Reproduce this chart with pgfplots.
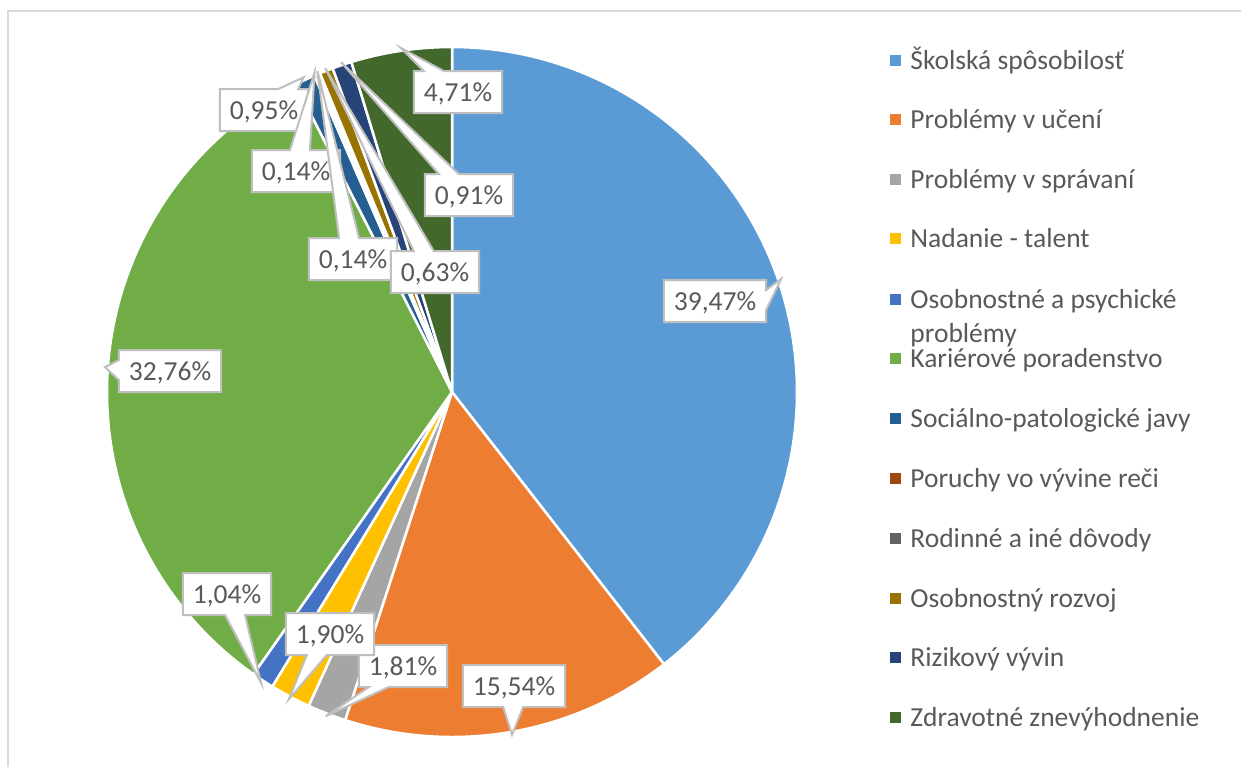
\documentclass[border=0pt]{standalone}
\usepackage{pgfplots}
\pgfplotsset{compat=1.18}
\usepackage{fontspec}
\setmainfont{Carlito}
\usetikzlibrary{shapes.callouts}
\definecolor{c1}{HTML}{5B9BD5}
\definecolor{c2}{HTML}{ED7D31}
\definecolor{c3}{HTML}{A5A5A5}
\definecolor{c4}{HTML}{FFC000}
\definecolor{c5}{HTML}{4472C4}
\definecolor{c6}{HTML}{70AD47}
\definecolor{c7}{HTML}{255E91}
\definecolor{c8}{HTML}{9E480E}
\definecolor{c9}{HTML}{636363}
\definecolor{c10}{HTML}{997300}
\definecolor{c11}{HTML}{264478}
\definecolor{c12}{HTML}{43682B}
\definecolor{txt}{HTML}{595959}
\definecolor{lblborder}{HTML}{BFBFBF}
\definecolor{framec}{HTML}{D9D9D9}
\tikzset{
  lbl/.style={rectangle callout, draw=lblborder, line width=1pt, fill=white,
    text=txt, font=\fontsize{13.75}{16}\selectfont, inner xsep=5pt, inner ysep=6pt,
    text height=9pt, text depth=0pt, callout pointer width=10pt},
  leg/.style={anchor=base west, text=txt, font=\fontsize{13.75}{16}\selectfont, inner sep=0pt}
}
\begin{document}
\begin{tikzpicture}
\begin{axis}[scale only axis, width=620.5pt, height=383.5pt,
  xmin=0, xmax=1241, ymin=0, ymax=767, y dir=reverse, hide axis, clip=false]
% outer frame
\draw[framec, line width=1pt] (axis cs:8,767) -- (axis cs:8,11) -- (axis cs:1241,11);
% pie slices (values in %)
\gdef\cum{0}
\foreach \v/\c in {39.47/c1,15.54/c2,1.81/c3,1.90/c4,1.04/c5,32.76/c6,0.95/c7,0.14/c8,0.14/c9,0.63/c10,0.91/c11,4.71/c12}{
  \pgfmathsetmacro{\sa}{3.6*\cum}
  \pgfmathsetmacro{\sb}{3.6*(\cum+\v)}
  \edef\tmp{\noexpand\addplot[fill=\c, draw=white, line width=1.25pt, line join=round, domain=\sa:\sb, samples=120] ({452+345*sin(x)},{392-345*cos(x)}) -- (axis cs:452,392) -- cycle;}
  \tmp
  \pgfmathsetmacro{\newcum}{\cum+\v}
  \xdef\cum{\newcum}
}
% data labels
\gdef\cum{0}
\foreach \v/\lab/\lx/\ly in {39.47/{39,47}/715/301, 15.54/{15,54}/514/686, 1.81/{1,81}/403/666, 1.90/{1,90}/330/634, 1.04/{1,04}/227/594, 32.76/{32,76}/170/371, 0.95/{0,95}/264/110, 0.14/{0,14}/296/171, 0.14/{0,14}/353/259, 0.63/{0,63}/435/272, 0.91/{0,91}/469/195, 4.71/{4,71}/458/92}{
  \pgfmathsetmacro{\mid}{3.6*(\cum+\v/2)}
  \pgfmathsetmacro{\tx}{452+348*sin(\mid)}
  \pgfmathsetmacro{\ty}{392-348*cos(\mid)}
  \edef\tmp{\noexpand\node[lbl, callout absolute pointer={(axis cs:\tx,\ty)}] at (axis cs:\lx,\ly) {\lab\noexpand\%};}
  \tmp
  \pgfmathsetmacro{\newcum}{\cum+\v}
  \xdef\cum{\newcum}
}
% legend
\foreach \y/\c in {60/c1,119/c2,179/c3,238/c4,299/c5,358/c6,418/c7,478/c8,538/c9,598/c10,657/c11,717/c12}{
  \edef\tmp{\noexpand\fill[\c] (axis cs:889.5,\y-5.5) rectangle (axis cs:900.5,\y+5.5);}
  \tmp
}
\node[leg] at (axis cs:910,69) {Školská spôsobilosť};
\node[leg] at (axis cs:910,128) {Problémy v učení};
\node[leg] at (axis cs:910,188) {Problémy v správaní};
\node[leg] at (axis cs:910,247) {Nadanie - talent};
\node[leg] at (axis cs:910,308) {Osobnostné a psychické};
\node[leg] at (axis cs:910,342) {problémy};
\node[leg] at (axis cs:910,367) {Kariérové poradenstvo};
\node[leg] at (axis cs:910,427) {Sociálno-patologické javy};
\node[leg] at (axis cs:910,487) {Poruchy vo vývine reči};
\node[leg] at (axis cs:910,547) {Rodinné a iné dôvody};
\node[leg] at (axis cs:910,607) {Osobnostný rozvoj};
\node[leg] at (axis cs:910,666) {Rizikový vývin};
\node[leg] at (axis cs:910,726) {Zdravotné znevýhodnenie};
\end{axis}
\pgfresetboundingbox
\path (0,0) rectangle (620.5pt,383.5pt);
\end{tikzpicture}
\end{document}
